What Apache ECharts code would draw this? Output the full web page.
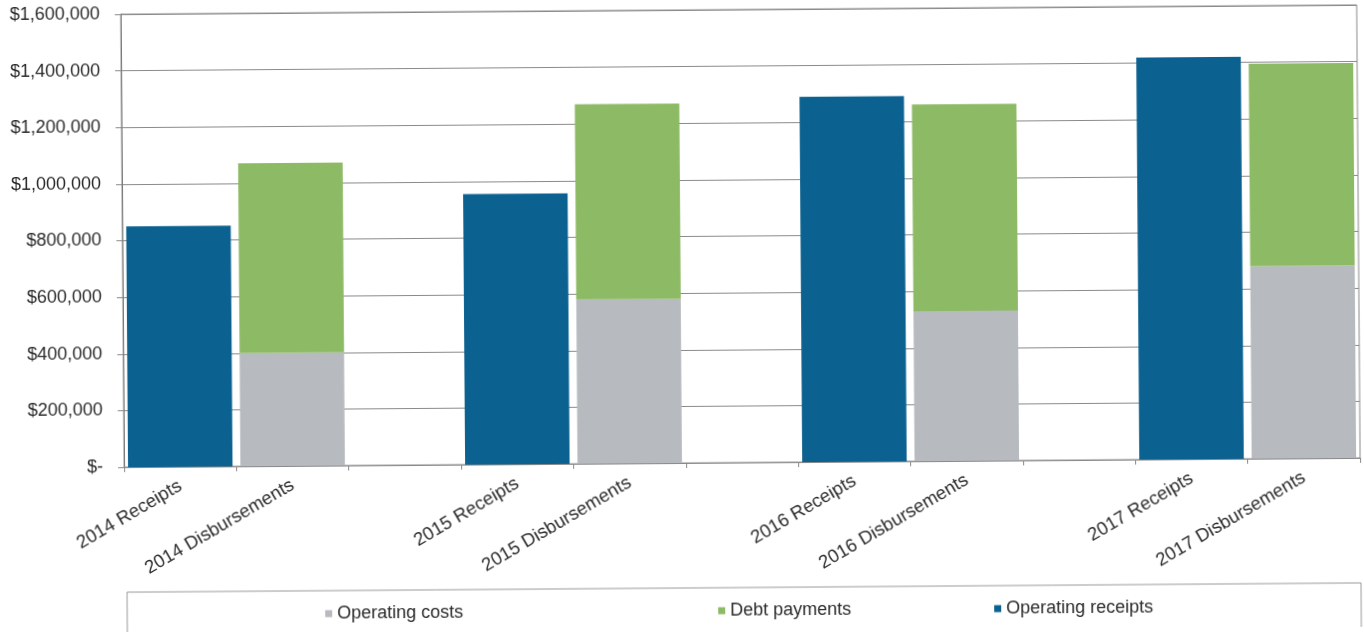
<!DOCTYPE html>
<html>
<head>
<meta charset="utf-8">
<script src="https://cdn.jsdelivr.net/npm/echarts@6/dist/echarts.min.js"></script>
<style>
  html, body { margin: 0; padding: 0; background: #ffffff; overflow: hidden; }
  #chart { width: 1364px; height: 632px; transform: rotate(-0.43deg); transform-origin: 50% 50%; }
</style>
</head>
<body>
<div id="chart"></div>
<script>
// Categories (blank slots separate the years)
const categories = ['2014 Receipts', '2014 Disbursements', ' ',
                    '2015 Receipts', '2015 Disbursements', '  ',
                    '2016 Receipts', '2016 Disbursements', '   ',
                    '2017 Receipts', '2017 Disbursements'];

// Series values in dollars
const operatingCosts    = [null, 400000, null, null, 580000, null, null, 530000, null, null, 680000];
const debtPayments      = [null, 670000, null, null, 690000, null, null, 730000, null, null, 715000];
const operatingReceipts = [850000, null, null, 955000, null, null, 1290000, null, null, 1420000, null];

// Value-axis tick labels, one per 200,000 step
const yTickLabels = ['$-', '$200,000', '$400,000', '$600,000', '$800,000',
                     '$1,000,000', '$1,200,000', '$1,400,000', '$1,600,000'];

const seriesNames = ['Operating costs', 'Debt payments', 'Operating receipts'];
const colors = ['#b7bbbf', '#8dba64', '#0b6190'];

const chart = echarts.init(document.getElementById('chart'), null, { renderer: 'canvas' });
const font = '"Liberation Sans", Arial, sans-serif';
const lineColor = '#8a8a8a';

function barSeries(name, data, color) {
  return {
    name: name,
    type: 'bar',
    stack: 'total',
    data: data,
    barCategoryGap: '7%',
    itemStyle: { color: color },
    emphasis: { disabled: true }
  };
}

function legendAt(name, left) {
  return {
    data: [name],
    left: left,
    top: 597,
    icon: 'rect',
    itemWidth: 7,
    itemHeight: 7,
    textStyle: { fontFamily: font, fontSize: 18, color: '#2b2b2b' },
    selectedMode: false
  };
}

chart.setOption({
  backgroundColor: '#ffffff',
  animation: false,
  color: colors,
  grid: {
    left: 123, right: 5, top: 10, height: 453,
    show: true, borderColor: lineColor, borderWidth: 1, backgroundColor: 'transparent'
  },
  legend: [
    legendAt(seriesNames[0], 318),
    legendAt(seriesNames[1], 711),
    legendAt(seriesNames[2], 987)
  ],
  graphic: [{
    type: 'rect',
    shape: { x: 125, y: 588, width: 1234, height: 70 },
    style: { fill: 'none', stroke: '#9a9a9a', lineWidth: 1 },
    silent: true
  }],
  xAxis: {
    type: 'category',
    data: categories,
    axisLine: { lineStyle: { color: lineColor } },
    axisTick: { show: true, length: 5, lineStyle: { color: lineColor } },
    axisLabel: {
      interval: 0,
      rotate: 30,
      margin: 18,
      fontFamily: font,
      fontSize: 18.5,
      color: '#2b2b2b'
    }
  },
  yAxis: {
    type: 'value',
    min: 0,
    max: 1600000,
    interval: 200000,
    axisLine: { show: true, lineStyle: { color: '#7a7a7a' } },
    axisTick: { show: true, length: 6, lineStyle: { color: lineColor } },
    splitLine: { lineStyle: { color: lineColor, width: 1 } },
    axisLabel: {
      margin: 21,
      fontFamily: font,
      fontSize: 18,
      color: '#2b2b2b',
      formatter: function (v) { return yTickLabels[Math.round(v / 200000)]; }
    }
  },
  series: [
    barSeries(seriesNames[0], operatingCosts, colors[0]),
    barSeries(seriesNames[1], debtPayments, colors[1]),
    barSeries(seriesNames[2], operatingReceipts, colors[2])
  ]
});
</script>
</body>
</html>
